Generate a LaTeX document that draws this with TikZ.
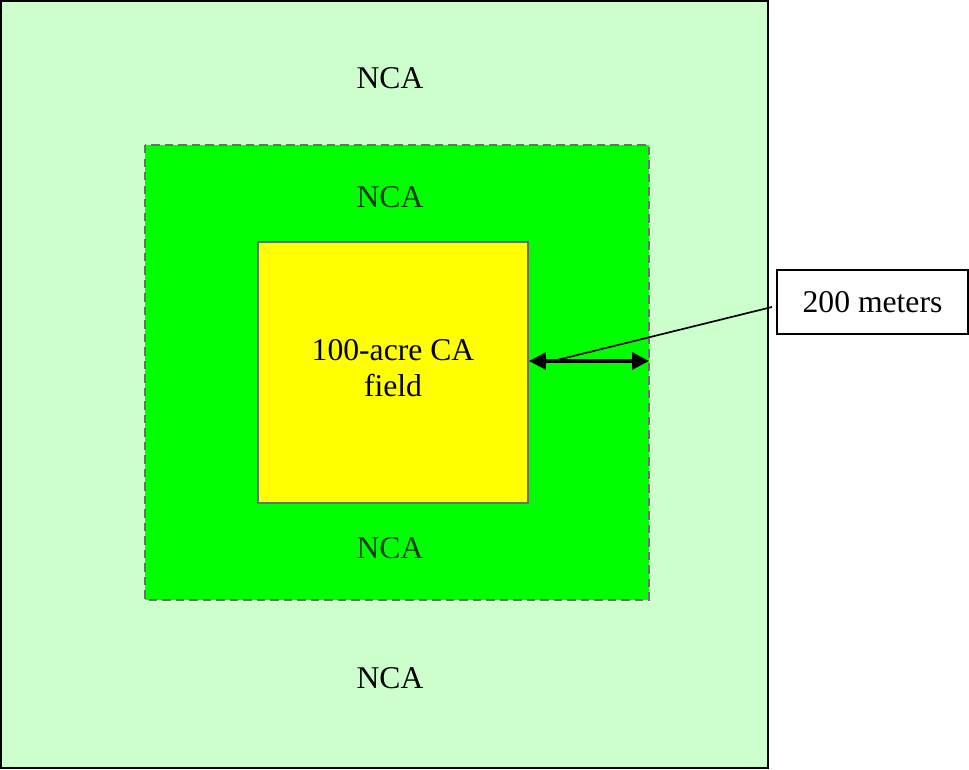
\documentclass[tikz,border=0pt]{standalone}
\usepackage{fontspec}
\setmainfont{Liberation Serif}
\usetikzlibrary{arrows.meta,positioning}

\definecolor{paleGreen}{HTML}{CCFFCC}
\definecolor{brightGreen}{HTML}{00FF00}
\definecolor{fieldYellow}{HTML}{FFFF00}
\definecolor{edgeGray}{HTML}{6E6E6E}
\definecolor{bufferText}{HTML}{1E3A1E}

\begin{document}
\begin{tikzpicture}[x=0.025cm, y=-0.025cm, >={Triangle[length=12pt, width=12pt]},
    zonelabel/.style={font=\fontsize{22.5}{25.6}\selectfont, align=center, inner sep=0pt}]
    \useasboundingbox (0,0) rectangle (969,770);

    \def\FieldL{258}  % yellow field
    \def\FieldR{528}
    \def\BufR{649}    % right edge of buffer
    \def\ArrY{361}    % y of the width arrow

    % zones
    \draw[fill=paleGreen, line width=1.4pt] (1,1) rectangle (768,768);
    \draw[fill=brightGreen, draw=edgeGray, line width=1.4pt, dash pattern=on 6pt off 3.6pt] (145,145) rectangle (\BufR,600);
    \draw[fill=fieldYellow, draw=edgeGray, line width=1pt] (\FieldL,242) rectangle (\FieldR,503);

    \node[zonelabel] (ncaOuterTop) at (390,78) {NCA};
    \node[zonelabel, text=bufferText] (ncaBufTop) at (390,197) {NCA};
    \node[zonelabel, text=bufferText] (ncaBufBot) at (390,548) {NCA};
    \node[zonelabel] (ncaOuterBot) at (390,678) {NCA};
    \node[zonelabel] (field) at (393,368) {100-acre CA\\field};

    \node[zonelabel, draw, line width=1pt, minimum width=4.77cm, minimum height=1.6cm] (width) at (872.5,302) {200 meters};

    \coordinate (aL) at (\FieldR+1,\ArrY);
    \coordinate (aR) at (\BufR,\ArrY);
    \coordinate (tail) at (553,\ArrY);
    \coordinate (lineEnd) at (772,307);

    \draw[<->, line width=2.2pt] (aL) -- (aR);
    \draw[line width=1.2pt] (tail) -- (lineEnd);
\end{tikzpicture}
\end{document}
